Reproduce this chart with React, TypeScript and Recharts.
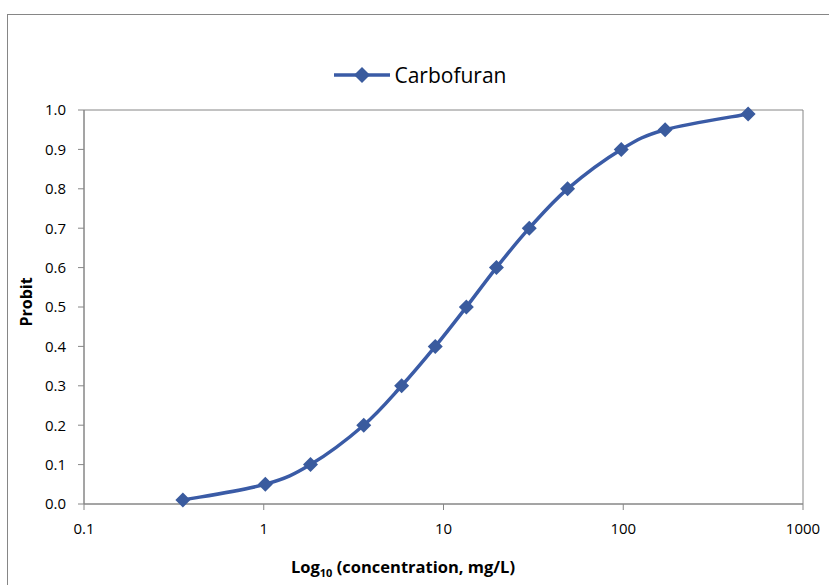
import React from "react";
import {
  LineChart,
  Line,
  XAxis,
  YAxis,
  ReferenceArea,
  Legend,
} from "recharts";

const concentrations = [0.355, 1.02, 1.82, 3.6, 5.85, 9.0, 13.4, 19.7, 30, 49, 97.5, 171, 495];
const probits = [0.01, 0.05, 0.1, 0.2, 0.3, 0.4, 0.5, 0.6, 0.7, 0.8, 0.9, 0.95, 0.99];
const xTicks = [0.1, 1, 10, 100, 1000];
const yTicks = [0, 0.1, 0.2, 0.3, 0.4, 0.5, 0.6, 0.7, 0.8, 0.9, 1.0];

const data = concentrations.map((x, i) => ({ x, y: probits[i] }));

const LINE_COLOR = "#3a5ba6";
const MARKER_COLOR = "#3a5b9e";
const AXIS_COLOR = "#868686";
const FONT = "'Open Sans', sans-serif";

// Excel-like smoothed line (Catmull-Rom style bezier)
const curveExcel = (context: any) => {
  let pts: number[][] = [];
  return {
    areaStart() {},
    areaEnd() {},
    lineStart() {
      pts = [];
    },
    point(x: number, y: number) {
      pts.push([+x, +y]);
    },
    lineEnd() {
      const n = pts.length;
      if (!n) return;
      context.moveTo(pts[0][0], pts[0][1]);
      for (let i = 0; i < n - 1; i++) {
        const p0 = pts[Math.max(i - 1, 0)];
        const p1 = pts[i];
        const p2 = pts[i + 1];
        const p3 = pts[Math.min(i + 2, n - 1)];
        context.bezierCurveTo(
          p1[0] + (p2[0] - p0[0]) / 6,
          p1[1] + (p2[1] - p0[1]) / 6,
          p2[0] - (p3[0] - p1[0]) / 6,
          p2[1] - (p3[1] - p1[1]) / 6,
          p2[0],
          p2[1]
        );
      }
    },
  };
};

const Diamond = (props: any) => {
  const { cx, cy } = props;
  if (cx == null || cy == null) return null;
  const r = 7.5;
  return (
    <path
      d={`M${cx},${cy - r}L${cx + r},${cy}L${cx},${cy + r}L${cx - r},${cy}Z`}
      fill={MARKER_COLOR}
    />
  );
};

const LegendContent = () => (
  <div
    style={{
      display: "flex",
      justifyContent: "center",
      alignItems: "center",
      fontFamily: FONT,
      fontSize: 21,
      color: "#000",
    }}
  >
    <svg width={56} height={20} style={{ marginRight: 4 }}>
      <line x1={0} y1={10} x2={56} y2={10} stroke={LINE_COLOR} strokeWidth={3.5} />
      <path d="M28,2L36,10L28,18L20,10Z" fill={MARKER_COLOR} />
    </svg>
    <span>Carbofuran</span>
  </div>
);

const XTitle = () => (
  <text
    x={403}
    y={573}
    textAnchor="middle"
    fontFamily={FONT}
    fontSize={16.5}
    fontWeight="bold"
    fill="#000"
  >
    Log
    <tspan fontSize={11} dy={4}>
      10
    </tspan>
    <tspan dy={-4}> (concentration, mg/L)</tspan>
  </text>
);

const YTitle = () => (
  <text
    x={0}
    y={0}
    transform="translate(32,302) rotate(-90)"
    textAnchor="middle"
    fontFamily={FONT}
    fontSize={16}
    fontWeight="bold"
    fill="#000"
  >
    Probit
  </text>
);

export default function App() {
  return (
    <div
      style={{
        position: "absolute",
        left: 0,
        top: 0,
        width: 829,
        height: 585,
        overflow: "hidden",
        background: "#fff",
      }}
    >
      <div
        style={{
          position: "absolute",
          left: 7,
          top: 14,
          width: 900,
          height: 700,
          border: `1px solid ${AXIS_COLOR}`,
        }}
      />
      <LineChart
        width={829}
        height={585}
        data={data}
        margin={{ top: 110, right: 26, left: 0, bottom: 0 }}
        style={{ position: "absolute", left: 0, top: 0 }}
      >
        <XAxis
          dataKey="x"
          type="number"
          scale="log"
          domain={[0.1, 1000]}
          ticks={xTicks}
          allowDataOverflow
          height={81}
          stroke={AXIS_COLOR}
          tickSize={6}
          tickMargin={13}
          tick={{ fill: "#000", fontFamily: FONT, fontSize: 15 }}
          tickFormatter={(v: number) => String(v)}
          label={<XTitle />}
        />
        <YAxis
          type="number"
          domain={[0, 1]}
          ticks={yTicks}
          width={84}
          stroke={AXIS_COLOR}
          tickSize={6}
          tickMargin={12}
          tick={{ fill: "#000", fontFamily: FONT, fontSize: 15 }}
          tickFormatter={(v: number) => v.toFixed(1)}
          label={<YTitle />}
        />
        <ReferenceArea
          x1={0.1}
          x2={1000}
          y1={0}
          y2={1}
          fill="none"
          stroke={AXIS_COLOR}
          strokeWidth={1}
          ifOverflow="visible"
        />
        <Legend
          layout="horizontal"
          verticalAlign="middle"
          align="center"
          content={<LegendContent />}
          wrapperStyle={{ top: 61, left: 6, width: 829 }}
        />
        <Line
          dataKey="y"
          type={curveExcel as any}
          stroke={LINE_COLOR}
          strokeWidth={3.5}
          dot={<Diamond />}
          activeDot={false}
          isAnimationActive={false}
          name="Carbofuran"
        />
      </LineChart>
    </div>
  );
}
